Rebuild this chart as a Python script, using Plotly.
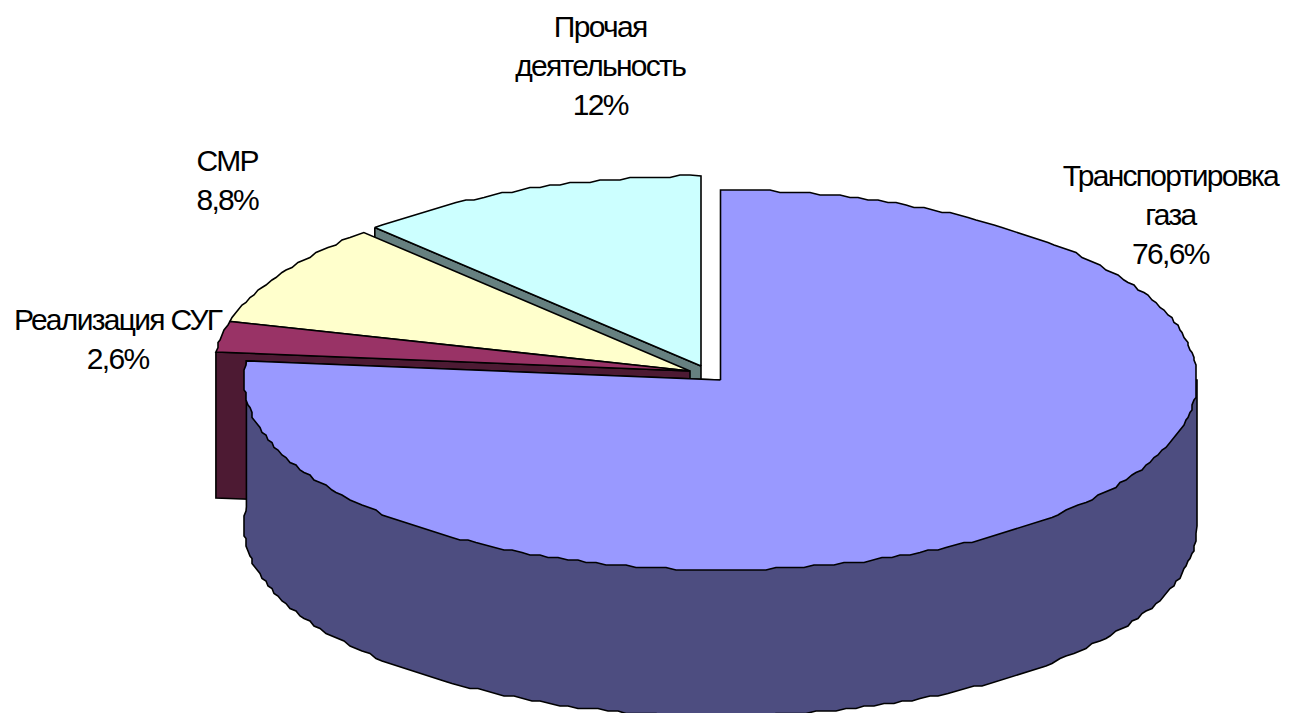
import math
import plotly.graph_objects as go

# --- data ---
categories = ["Транспортировка<br>газа", "Реализация СУГ", "СМР", "Прочая<br>деятельность"]
values = [76.6, 2.6, 8.8, 12.0]
value_labels = ["76,6%", "2,6%", "8,8%", "12%"]

# --- style / layout ---
top_colors = ["#9999FF", "#993366", "#FFFFCC", "#CCFFFF"]
side_colors = ["#4D4D80", "#4D1A33", "#808066", "#668080"]
centers = [(720.5, 380), (690, 371), (690, 371), (701, 366)]
label_pos = [(1170, 214), (117, 339), (227, 180), (600, 65)]
RX, RY, DEPTH = 476.5, 190, 146
W, H = 1297, 713
SNAP_X, SNAP_Y = 2.0, 2.5


def arc(c, a0, a1):
    n = max(2, int(abs(a1 - a0) / 1.2))
    pts = []
    for i in range(n + 1):
        a = math.radians(a0 + (a1 - a0) * i / n)
        x = c[0] + RX * math.sin(a)
        y = c[1] - RY * math.cos(a)
        if 0 < i < n:  # slightly stepped rim, as in the original
            y = round(y / SNAP_Y) * SNAP_Y
            x = round(x / SNAP_X) * SNAP_X
        pts.append((x, y))
    return pts


def poly(fig, pts, color):
    xs = [p[0] for p in pts] + [pts[0][0]]
    ys = [p[1] for p in pts] + [pts[0][1]]
    fig.add_trace(go.Scatter(x=xs, y=ys, mode="lines", fill="toself", fillcolor=color,
                             line=dict(color="#000000", width=1.6), hoverinfo="skip",
                             showlegend=False))


# slice angles, clockwise from 12 o'clock
bounds = [0.0]
for v in values:
    bounds.append(bounds[-1] + v / sum(values) * 360)

fig = go.Figure()
# painter's order: back slices first, the big slice last
for i in [3, 2, 1, 0]:
    c, a0, a1 = centers[i], bounds[i], bounds[i + 1]
    # cut face that turns towards the viewer
    if i in (1, 3):
        p = (c[0] + RX * math.sin(math.radians(a0)), c[1] - RY * math.cos(math.radians(a0)))
        poly(fig, [p, c, (c[0], c[1] + DEPTH), (p[0], p[1] + DEPTH)], side_colors[i])
    if i == 0:
        # outer rim, visible along the front of the pie; its upper edge lies under the top face
        rim = arc(c, 90, a1)
        poly(fig, [c, rim[0]] + [(x, y + DEPTH) for x, y in rim] + [rim[-1]], side_colors[i])
    poly(fig, [c] + arc(c, a0, a1), top_colors[i])

for cat, lab, (lx, ly) in zip(categories, value_labels, label_pos):
    fig.add_annotation(x=lx, y=ly, text=f"{cat}<br>{lab}", showarrow=False,
                       xanchor="center", yanchor="middle", align="center",
                       font=dict(family="Liberation Sans", size=30, color="#000000"))

fig.update_layout(width=W, height=H, margin=dict(l=0, r=0, t=0, b=0),
                  paper_bgcolor="#FFFFFF", plot_bgcolor="#FFFFFF", showlegend=False,
                  xaxis=dict(range=[0, W], visible=False, fixedrange=True),
                  yaxis=dict(range=[H, 0], visible=False, fixedrange=True))

css = ("var s=document.createElement('style');"
       "s.textContent='body{margin:0;overflow:hidden}.annotation-text{letter-spacing:-1.7px}';"
       "document.head.appendChild(s);")
fig.write_html("out.html", post_script=css, config={"displayModeBar": False})
